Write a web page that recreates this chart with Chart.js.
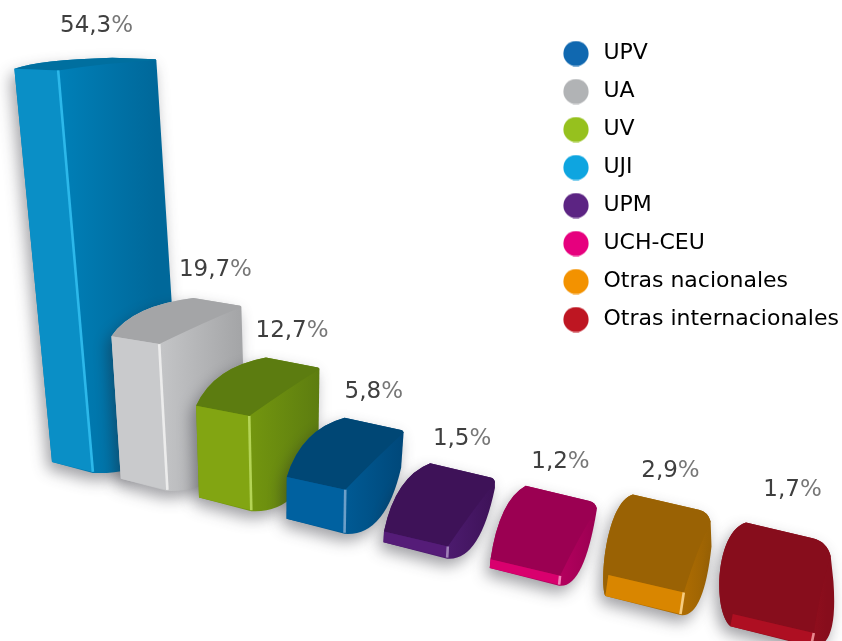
<!DOCTYPE html>
<html lang="es">
<head>
<meta charset="utf-8">
<title>Chart</title>
<script src="https://cdn.jsdelivr.net/npm/chart.js@4"></script>
<style>
html,body{margin:0;padding:0;background:#fff;overflow:hidden}
#wrap{width:842px;height:641px}
canvas{display:block;filter:blur(.55px)}
</style>
</head>
<body>
<div id="wrap"><canvas id="c" width="842" height="641"></canvas></div>
<script>
const categories = ['UPV','UA','UV','UJI','UPM','UCH-CEU','Otras nacionales','Otras internacionales'];
const shares = [54.3,19.7,12.7,5.8,1.5,1.2,2.9,1.7];
const legendColors = ['#1068b0','#b1b3b5','#96c11e','#0ea5e0','#5c2483','#e6007e','#f39200','#be1622'];
const frontColors = ['#0a8fc6','#c9cacc','#82a512','#0061a0','#551c78','#d9006e','#d98600','#ae0f22'];
const sideLight = ['#0080b8','#c4c5c7','#73960f','#005a94','#4c1b6e','#b4005e','#ad6c02','#8f0e1d'];
const sideDark = ['#00689a','#a4a5a7','#5d7d10','#00487a','#3e1258','#9b0052','#9a6204','#870d1c'];
const capColors = ['#006f9f','#a4a5a7','#5c7c10','#004775','#3e1258','#9b0052','#9a6204','#870d1c'];
const glintColors = ['#2cb8ea','#ececec','#b4d456','#6c9fc8','#a080b8','#f080b8','#f6cc80','#e88a90'];

function dot(color){
  const s=document.createElement('canvas');s.width=26;s.height=26;
  const g=s.getContext('2d');g.fillStyle=color;g.beginPath();g.arc(13,13,12.6,0,Math.PI*2);g.fill();
  return s;
}

/* Oblique view: bars stand on a receding floor line */
const floorX = t => 72 + 67*t + 4.68*t*t;
const floorY = x => 462 + 0.242*(x-52);
function bar3d(chart, el){
  const a = chart.chartArea, step = a.width/categories.length;
  const tc = (el.x-a.left-step/2)/step, half = el.width/2/step, v = el.base-el.y;
  const Xc = floorX(tc);
  const P = (t,h)=>{
    const X = floorX(t), lean = 0.00042*(Xc-289)+0.00018*(X-Xc);
    return {x:X+lean*h, y:floorY(X)-h-0.0005*h*(X-Xc)};
  };
  const tL=tc-half, tR=tc+half;
  const BL=P(tL,0),BR=P(tR,0),TL=P(tL,v),TR=P(tR,v);
  const g=56+2*tc+0.35*tc*tc+Math.max(0,tc-5)*3, dx=90-11*tc+0.02*v, dy=-Math.max(11,g-0.14*v);
  const bkL={x:TL.x+dx,y:TL.y+dy}, bkR={x:TR.x+dx,y:TR.y+dy};
  const r=1+0.04*tc*tc*tc, bulge=Math.max(0,tc-5.5)*12;
  const bkB={
    x:Math.max(BR.x+dx-0.03*v, tc>3?bkR.x+r*0.25:0)+bulge*0.15,
    y:tc>5.5?Math.max(BR.y-g,bkR.y+r+25):BR.y-g
  };
  return {tc,v,BL,BR,TL,TR,bkL,bkR,bkB,dx,dy,r,bulge};
}
function leftCurve(ctx,b){
  const {BL,TL,bkL,dx,dy,bulge}=b;
  if(bulge>0){
    ctx.bezierCurveTo(BL.x-bulge,BL.y-16,TL.x+0.2*dx-bulge*1.1,TL.y+0.9*dy,bkL.x,bkL.y);
  }else{
    ctx.lineTo(TL.x,TL.y);
    ctx.quadraticCurveTo(TL.x+0.25*dx,TL.y+0.8*dy,bkL.x,bkL.y);
  }
}
function backEdge(ctx,b){
  const {bkL,bkR,r}=b;
  const len=Math.hypot(bkR.x-bkL.x,bkR.y-bkL.y), ux=(bkR.x-bkL.x)/len, uy=(bkR.y-bkL.y)/len;
  ctx.lineTo(bkR.x-ux*r,bkR.y-uy*r);
  ctx.quadraticCurveTo(bkR.x,bkR.y,bkR.x+r*0.25,bkR.y+r);
}
const draw3d = {
  id:'draw3d',
  afterLayout(chart){
    const l=chart.legend;
    l.left=543.5;l.top=26.5;l.right=l.left+l.width;l.bottom=l.top+l.height;
  },
  beforeDatasetDraw(chart,args){
    const ctx=chart.ctx, meta=args.meta;
    meta.data.forEach((el,i)=>{
      const b=bar3d(chart,el), {BL,BR,TL,TR,bkR,bkB,dx,bulge}=b;
      ctx.save();
      const grad=ctx.createLinearGradient(TR.x,0,bkR.x,0);
      grad.addColorStop(0,sideLight[i]);grad.addColorStop(1,sideDark[i]);
      ctx.shadowColor='rgba(30,30,40,.42)';ctx.shadowBlur=15;ctx.shadowOffsetX=-4;ctx.shadowOffsetY=7;
      ctx.fillStyle=grad;
      ctx.beginPath();ctx.moveTo(BL.x,BL.y);
      leftCurve(ctx,b);backEdge(ctx,b);
      ctx.lineTo(bkB.x,bkB.y);
      ctx.quadraticCurveTo(BR.x+0.7*dx+bulge,BR.y+4,BR.x,BR.y+1);
      ctx.closePath();ctx.fill();
      ctx.restore();
      // top face
      ctx.fillStyle=capColors[i];
      ctx.beginPath();ctx.moveTo(BL.x,BL.y);
      leftCurve(ctx,b);backEdge(ctx,b);
      ctx.quadraticCurveTo(TR.x+0.55*(bkR.x-TR.x),TR.y+0.5*(bkR.y-TR.y)-3,TR.x,TR.y);
      ctx.lineTo(TL.x,TL.y);
      ctx.closePath();ctx.fill();
      // front face
      ctx.fillStyle=el.options.backgroundColor;
      ctx.beginPath();ctx.moveTo(BL.x,BL.y);ctx.lineTo(TL.x,TL.y);ctx.lineTo(TR.x,TR.y);ctx.lineTo(BR.x,BR.y);ctx.closePath();ctx.fill();
      // bright edge
      ctx.strokeStyle=glintColors[i];ctx.lineWidth=2.6;
      ctx.beginPath();ctx.moveTo(TR.x,TR.y);ctx.lineTo(BR.x,BR.y);ctx.stroke();
    });
    return false;
  },
  afterDatasetsDraw(chart){
    const ctx=chart.ctx, meta=chart.getDatasetMeta(0);
    ctx.save();
    ctx.font='23px "DejaVu Sans"';ctx.textAlign='left';ctx.textBaseline='middle';
    meta.data.forEach((el,i)=>{
      const b=bar3d(chart,el);
      const txt=shares[i].toFixed(1).replace('.',',')+'%';
      const w=ctx.measureText(txt).width, pw=ctx.measureText('%').width;
      const cx=(b.bkL.x+b.bkR.x)/2-37*Math.pow(b.v/395,3)+(b.tc>6?6:0);
      const cy=(b.bkL.y+b.bkR.y)/2-32-Math.max(0,b.tc-6)*10;
      const x0=cx-w/2, split=(w-pw)/w;
      const fill=ctx.createLinearGradient(x0,0,x0+w,0);
      fill.addColorStop(0,'#3f3f3f');fill.addColorStop(split,'#3f3f3f');
      fill.addColorStop(split,'#777777');fill.addColorStop(1,'#777777');
      ctx.fillStyle=fill;
      ctx.fillText(txt,x0,cy);
    });
    ctx.restore();
  }
};

new Chart(document.getElementById('c'),{
  type:'bar',
  data:{labels:categories,datasets:[{label:'%',data:shares,backgroundColor:frontColors,categoryPercentage:1,barPercentage:0.61}]},
  plugins:[draw3d],
  options:{
    responsive:false,animation:false,
    layout:{padding:0},
    scales:{
      x:{display:false},
      y:{display:false,min:0,max:87.6}
    },
    plugins:{
      tooltip:{enabled:false},
      legend:{
        position:'chartArea',align:'start',
        labels:{
          usePointStyle:true,pointStyleWidth:33,boxHeight:18,padding:16,
          color:'#333333',font:{family:'"DejaVu Sans"',size:22},
          generateLabels:()=>categories.map((c,i)=>({text:c,fillStyle:legendColors[i],strokeStyle:legendColors[i],lineWidth:0,pointStyle:dot(legendColors[i]),datasetIndex:0,index:i,hidden:false}))
        }
      }
    }
  }
});
</script>
</body>
</html>
